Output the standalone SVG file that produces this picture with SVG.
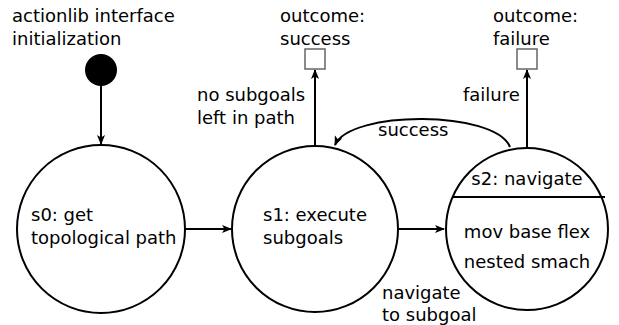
<svg xmlns="http://www.w3.org/2000/svg" width="619" height="325" viewBox="0 0 619 325">
<style>
text{font-family:"DejaVu Sans","Liberation Sans",sans-serif;font-size:18px;fill:#000}
.st{fill:#fff;stroke:#000;stroke-width:2}
.oc{fill:#fff;stroke:#666;stroke-width:1.5}
.ed{fill:none;stroke:#000;stroke-width:2;marker-end:url(#ah)}
.m{text-anchor:middle}
</style>
<defs>
<marker id="ah" markerWidth="10" markerHeight="8" refX="9" refY="4" orient="auto" markerUnits="userSpaceOnUse">
<path d="M0,0 L10,4 L0,8 L2.5,4 Z" fill="#000"/>
</marker>
</defs>
<rect width="619" height="325" fill="#fff"/>
<g id="connectors">
<path class="ed" d="M101,86 L101,144"/>
<path class="ed" d="M185,229 L231,229"/>
<path class="ed" d="M399,229 L444,229"/>
<path class="ed" d="M315,145 L315,70"/>
<path class="ed" d="M527,147 L527,70"/>
<path class="ed" d="M510,147 C495,110 350,110 335,145"/>
<text x="197" y="101">no subgoals</text>
<text x="197" y="124">left in path</text>
<text x="463" y="101">failure</text>
<text x="378" y="136">success</text>
<text x="382" y="299">navigate</text>
<text x="382" y="321">to subgoal</text>
</g>
<g id="init">
<text x="12" y="22">actionlib interface</text>
<text x="12" y="45">initialization</text>
<circle cx="101" cy="70" r="16" fill="#000"/>
</g>
<g id="s0">
<circle class="st" cx="101" cy="229" r="84"/>
<text x="31" y="221">s0: get</text>
<text x="31" y="244">topological path</text>
</g>
<g id="s1">
<circle class="st" cx="315" cy="229" r="83"/>
<text x="263" y="221">s1: execute</text>
<text x="263" y="244">subgoals</text>
</g>
<g id="s2">
<circle class="st" cx="527" cy="229" r="81"/>
<line x1="452" y1="197" x2="605" y2="197" stroke="#000" stroke-width="2"/>
<text class="m" x="527" y="185">s2: navigate</text>
<text class="m" x="527" y="238">mov base flex</text>
<text class="m" x="527" y="268">nested smach</text>
</g>
<g id="success">
<text x="280" y="22">outcome:</text>
<text x="280" y="45">success</text>
<rect class="oc" x="305" y="49" width="20" height="20"/>
</g>
<g id="failure">
<text x="493" y="22">outcome:</text>
<text x="493" y="45">failure</text>
<rect class="oc" x="517" y="49" width="20" height="20"/>
</g>
</svg>
